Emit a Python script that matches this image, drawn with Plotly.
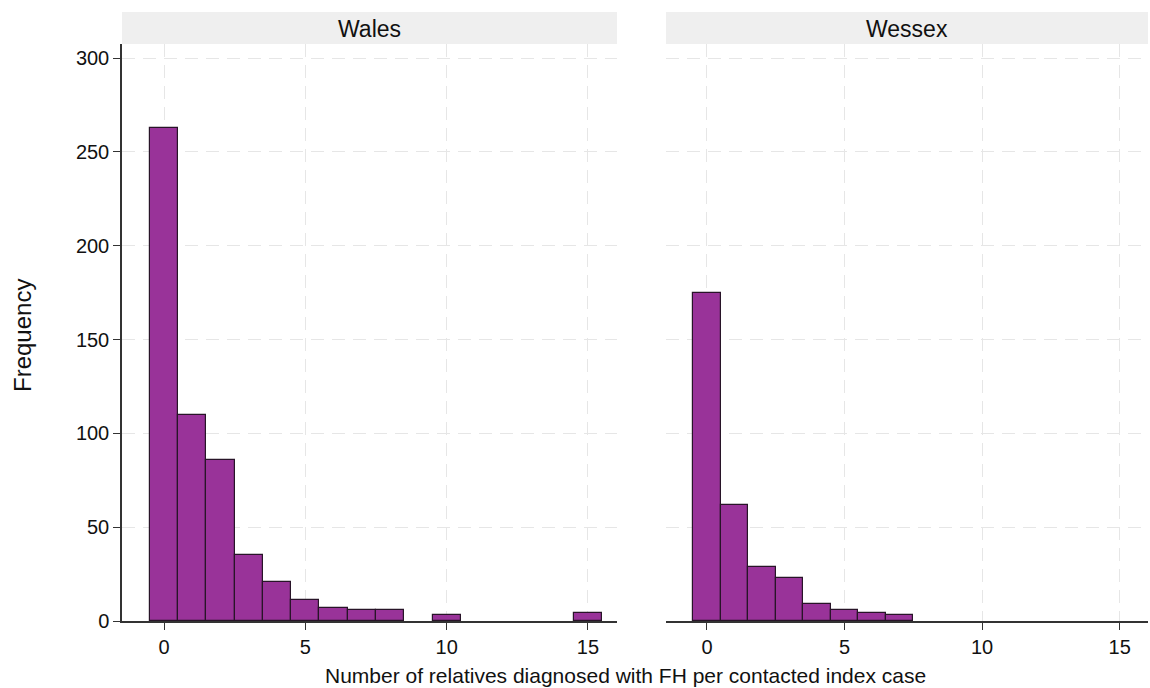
import plotly.graph_objects as go

bins = list(range(16))
wales = [263, 110, 86, 35, 21, 11, 7, 6, 6, 0, 3, 0, 0, 0, 0, 4]
wessex = [175, 62, 29, 23, 9, 6, 4, 3, 0, 0, 0, 0, 0, 0, 0, 0]
panels = ["Wales", "Wessex"]
x_ticks = [0, 5, 10, 15]
y_ticks = [0, 50, 100, 150, 200, 250, 300]

W, H = 1150, 688
FILL = "rgb(153,51,153)"
EDGE = "rgb(40,20,40)"
FONT = "Liberation Sans, Arial, sans-serif"


def nz(vals):
    # empty bins are not drawn in the reference
    return [v if v else None for v in vals]


fig = go.Figure()
fig.add_trace(go.Bar(x=bins, y=nz(wales), width=1, marker=dict(color=FILL, line=dict(color=EDGE, width=1.2)),
                     xaxis="x", yaxis="y", showlegend=False))
fig.add_trace(go.Bar(x=bins, y=nz(wessex), width=1, marker=dict(color=FILL, line=dict(color=EDGE, width=1.2)),
                     xaxis="x2", yaxis="y2", showlegend=False))

px = lambda v: v / W
py = lambda v: 1 - v / H

dom1 = [px(122), px(617)]
dom2 = [px(666), px(1148)]
ydom = [py(621), py(44)]

GRID = "#e6e6e6"
DASH = "13px,8px"

xcommon = dict(range=[-1.49, 16.03], tickvals=x_ticks, showgrid=True, gridcolor=GRID, griddash=DASH,
               gridwidth=1.3, showline=True, linecolor="#333333", linewidth=1.5, ticks="outside",
               ticklen=7, tickcolor="#333333", tickwidth=1.2, zeroline=False, automargin=False,
               tickfont=dict(family=FONT, size=20, color="#111111"))
ycommon = dict(range=[0, 307.5], tickvals=y_ticks, showgrid=True, gridcolor=GRID, griddash=DASH,
               gridwidth=1.3, zeroline=False, domain=ydom, automargin=False,
               tickfont=dict(family=FONT, size=20, color="#111111"))

fig.update_layout(
    template="none",
    width=W, height=H, margin=dict(l=0, r=0, t=0, b=0, pad=0),
    paper_bgcolor="white", plot_bgcolor="white", bargap=0,
    xaxis=dict(domain=dom1, anchor="y", **xcommon),
    xaxis2=dict(domain=dom2, anchor="y2", **xcommon),
    yaxis=dict(anchor="x", showline=True, linecolor="#333333", linewidth=1.5, ticks="outside",
               ticklen=7, tickcolor="#333333", tickwidth=1.2, **ycommon),
    yaxis2=dict(anchor="x2", showticklabels=False, showline=False, ticks="", matches="y", **ycommon),
    font=dict(family=FONT, color="#111111"),
)

for dom, name in zip([dom1, dom2], panels):
    fig.add_shape(type="rect", xref="paper", yref="paper", x0=dom[0], x1=dom[1], y0=py(44), y1=py(12),
                  fillcolor="#efefef", line=dict(width=0), layer="below")
    fig.add_annotation(xref="paper", yref="paper", x=(dom[0] + dom[1]) / 2, y=py(29), text=name,
                       showarrow=False, font=dict(family=FONT, size=23, color="#111111"),
                       xanchor="center", yanchor="middle")

fig.add_annotation(xref="paper", yref="paper", x=px(22), y=py(336), text="Frequency", textangle=-90,
                   showarrow=False, font=dict(family=FONT, size=24, color="#111111"),
                   xanchor="center", yanchor="middle")
fig.add_annotation(xref="paper", yref="paper", x=px(625), y=py(675), text="Number of relatives diagnosed with FH per contacted index case",
                   showarrow=False, font=dict(family=FONT, size=21, color="#111111"),
                   xanchor="center", yanchor="middle", borderpad=0)

fig.write_html("out.html", config={"displayModeBar": False},
               post_script="document.body.style.margin='0';document.body.style.overflow='hidden';")
